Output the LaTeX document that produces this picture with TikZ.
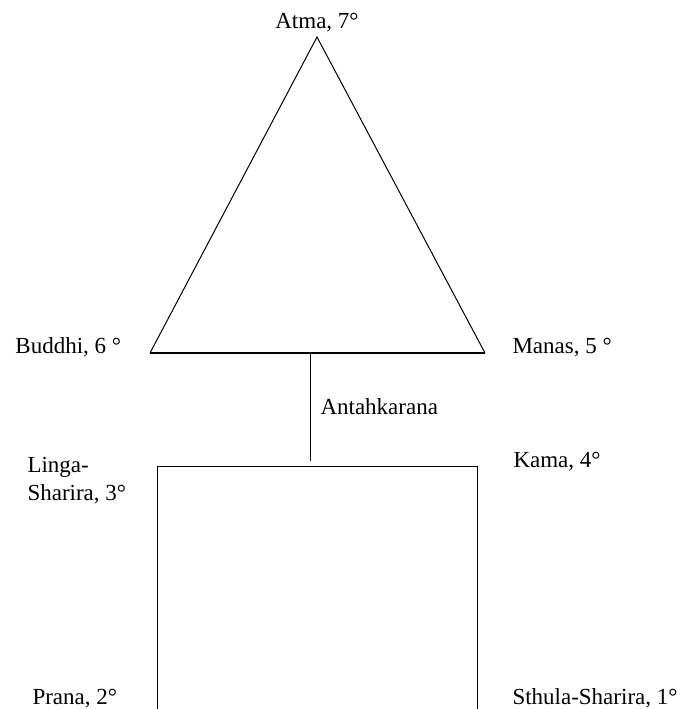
\documentclass[tikz,border=0pt]{standalone}
\usepackage{fontspec}
\setmainfont{Liberation Serif}
\usetikzlibrary{positioning}

\begin{document}
\begin{tikzpicture}[x=1pt,y=-1pt,line width=1pt,
		txt/.style={inner sep=0pt,font=\fontsize{23}{28}\selectfont},
		basewest/.style={txt,anchor=base west}]
		\useasboundingbox (0,0) rectangle (692,709);
		% triangle
		\coordinate (atma) at (317,37);
		\coordinate (buddhi) at (150,353);
		\coordinate (manas) at (485,353);
		\draw  (buddhi) -- (atma) -- (manas);
		\draw[line width=2pt]  (buddhi) -- (manas);
		% antahkarana
		\coordinate (up) at (310,353);
		\coordinate (down) at (310,461);
		\draw  (up) -- (down);
		% lower square, open at the bottom
		\coordinate (linga) at (157,466);
		\coordinate (kama) at (477,466);
		\coordinate (prana) at (157,709);
		\coordinate (sthula) at (477,709);
		\draw  (prana) -- (linga) -- (kama) -- (sthula);
		% labels
		\node[txt,anchor=base] (atmaT) at (317,29) {Atma, 7°};
		\node[basewest] (buddhiT) at (15,353) {Buddhi, 6 °};
		\node[basewest] (manasT) at (512,353) {Manas, 5 °};
		\node[basewest] (antahT) at (320,414) {Antahkarana};
		\node[txt,anchor=north west,align=left] (lingaT) at (27,457) {Linga-\\Sharira, 3°};
		\node[basewest] (kamaT) at (513,467) {Kama, 4°};
		\node[basewest] (pranaT) at (32,704) {Prana, 2°};
		\node[basewest] (sthulaT) at (512,704) {Sthula-Sharira, 1°};
		\end{tikzpicture}
\end{document}
